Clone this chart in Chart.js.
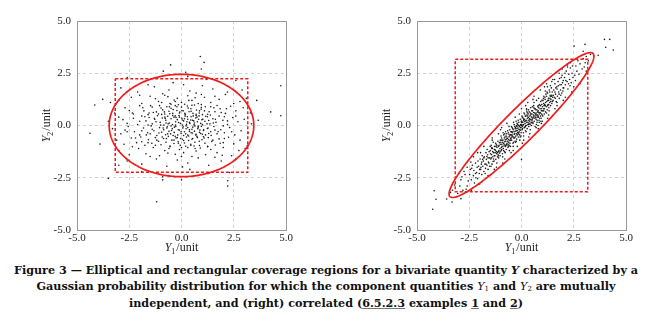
<!DOCTYPE html>
<html>
<head>
<meta charset="utf-8">
<script src="https://cdn.jsdelivr.net/npm/chart.js@4/dist/chart.umd.min.js"></script>
<style>
body { margin: 0; width: 652px; height: 327px; background: #fff; position: relative; overflow: hidden; }
.box { position: absolute; top: 0; width: 300px; height: 255px; }
#leftBox { left: 0; }
#rightBox { left: 340px; }
#caption { position: absolute; left: 0; top: 262px; width: 652px; text-align: center;
  font: bold 11.2px "DejaVu Serif", serif; line-height: 16px; color: #111; }
#caption .m { font-weight: normal; font-style: italic; }
#caption sub { font-size: 7px; font-style: normal; vertical-align: -1px; line-height: 0; }
#caption u { text-decoration-color: #777; }
</style>
</head>
<body>
<div class="box" id="leftBox"><canvas id="leftChart" width="300" height="255"></canvas></div>
<div class="box" id="rightBox"><canvas id="rightChart" width="300" height="255"></canvas></div>
<div id="caption">Figure 3 — Elliptical and rectangular coverage regions for a bivariate quantity <i>Y</i> characterized by a<br>Gaussian probability distribution for which the component quantities <span class="m">Y<sub>1</sub></span> and <span class="m">Y<sub>2</sub></span> are mutually<br>independent, and (right) correlated (<u>6.5.2.3</u> examples <u>1</u> and <u>2</u>)</div>
<script>
// axes
const axisTicks = [-5.0, -2.5, 0.0, 2.5, 5.0];

// coverage rectangles (corners, closed)
const rectLeftX = [-3.17, 3.17, 3.17, -3.17, -3.17];
const rectLeftY = [2.24, 2.24, -2.24, -2.24, 2.24];
const rectRightX = [-3.17, 3.17, 3.17, -3.17, -3.17];
const rectRightY = [3.17, 3.17, -3.17, -3.17, 3.17];

// coverage ellipses: centre, semi-axes, angle (deg)
const ellipseLeft = [0, 0, 3.46, 2.45, 0];
const ellipseRight = [0, 0.02, 4.84, 0.77, 45];

// independent case (Y1, Y2)
const leftPoints = [
  [-1.8,2.1],[0.3,2.35],[1.2,2.2],[-0.4,2.05],[2.6,2.15],[-2.6,2.3],
  [0.9,3.3],[1.08,3.02],[-0.52,2.9],[-0.87,2.6],[0.95,2.7],[0.2,2.55],
  [-2.1,1.6],[-1.3,1.85],[-0.6,1.7],[0.1,1.95],[0.7,1.55],[1.5,1.75],[2.2,1.6],[-2.9,1.8],[0.4,1.65],[-0.9,1.52],[1.0,1.9],[2.9,1.7],[-1.6,1.95],
  [-3.0,1.2],[-2.4,1.35],[-1.9,1.05],[-1.5,1.4],[-1.1,1.15],[-0.8,1.45],[-0.5,1.02],[-0.2,1.3],[0.0,1.1],[0.3,1.42],[0.5,1.2],[0.8,1.05],[1.1,1.35],[1.4,1.1],
  [1.8,1.25],[2.1,1.48],[2.5,1.05],[3.1,1.3],[-0.35,1.22],[0.65,1.33],[-1.25,1.28],[1.6,1.4],[-2.0,1.45],[0.15,1.02],[-0.65,1.38],[0.95,1.48],[2.8,1.15],[-3.4,1.1],
  [-3.77,1.25],[-4.15,0.98],[3.6,1.2],[4.75,1.9],
  [-3.2,0.6],[-2.7,0.85],[-2.3,0.55],[-2.0,0.95],[-1.8,0.7],[-1.6,0.52],[-1.4,0.88],[-1.2,0.65],[-1.05,0.95],[-0.9,0.75],[-0.8,0.55],[-0.7,0.9],[-0.6,0.68],
  [-0.5,0.82],[-0.42,0.58],[-0.3,0.95],[-0.22,0.72],[-0.1,0.6],[0.0,0.88],[0.08,0.7],[0.18,0.52],[0.28,0.93],[0.36,0.66],[0.45,0.8],[0.55,0.58],[0.62,0.98],
  [0.72,0.74],[0.85,0.6],[0.95,0.86],[1.1,0.7],[1.25,0.54],[1.4,0.9],[1.6,0.66],[1.85,0.8],[2.1,0.58],[2.35,0.92],[2.6,0.7],[2.95,0.85],[3.3,0.6],[-2.5,0.72],
  [-0.95,0.53],[0.5,0.97],[1.0,0.52],[-0.15,0.99],[1.7,0.96],[4.27,0.65],[4.75,0.47],
  [-3.5,0.2],[-3.0,0.4],[-2.6,0.1],[-2.3,0.35],[-2.1,0.05],[-1.9,0.45],[-1.7,0.22],[-1.55,0.38],[-1.4,0.08],[-1.28,0.3],[-1.15,0.47],[-1.02,0.15],[-0.92,0.36],
  [-0.84,0.02],[-0.75,0.25],[-0.66,0.44],[-0.58,0.12],[-0.5,0.32],[-0.43,0.05],[-0.36,0.4],[-0.28,0.18],[-0.2,0.28],[-0.12,0.48],[-0.05,0.1],[0.02,0.35],
  [0.1,0.22],[0.17,0.45],[0.24,0.06],[0.3,0.3],[0.38,0.15],[0.46,0.42],[0.53,0.25],[0.6,0.04],[0.68,0.36],[0.76,0.18],[0.84,0.46],[0.92,0.1],[1.02,0.3],
  [1.12,0.2],[1.24,0.42],[1.36,0.08],[1.5,0.32],[1.65,0.15],[1.8,0.45],[1.98,0.25],[2.2,0.05],[2.45,0.38],[2.7,0.18],[3.0,0.3],[3.35,0.08],[-0.8,0.41],
  [0.05,0.02],[0.7,0.48],[-1.6,0.02],[1.3,0.24],[-2.8,0.28],[2.05,0.42],[-0.3,0.46],[3.67,0.25],
  [-3.3,-0.15],[-2.9,-0.4],[-2.55,-0.05],[-2.25,-0.3],[-2.0,-0.45],[-1.82,-0.12],[-1.62,-0.35],[-1.45,-0.02],[-1.32,-0.25],[-1.18,-0.48],[-1.05,-0.1],
  [-0.95,-0.32],[-0.85,-0.2],[-0.76,-0.44],[-0.68,-0.06],[-0.6,-0.28],[-0.52,-0.4],[-0.44,-0.15],[-0.35,-0.33],[-0.27,-0.05],[-0.18,-0.45],[-0.1,-0.22],
  [-0.02,-0.38],[0.06,-0.12],[0.14,-0.3],[0.22,-0.02],[0.3,-0.46],[0.38,-0.2],[0.46,-0.35],[0.54,-0.08],[0.62,-0.27],[0.7,-0.42],[0.78,-0.15],[0.86,-0.33],
  [0.95,-0.04],[1.05,-0.24],[1.15,-0.45],[1.27,-0.12],[1.4,-0.3],[1.55,-0.05],[1.7,-0.4],[1.88,-0.2],[2.05,-0.35],[2.3,-0.1],[2.55,-0.45],[2.85,-0.25],
  [3.2,-0.35],[-0.4,-0.48],[0.1,-0.48],[0.5,-0.18],[1.0,-0.42],[-1.5,-0.4],[-0.7,-0.12],[0.3,-0.1],[1.6,-0.22],[-2.7,-0.22],[2.0,-0.02],[0.8,-0.04],[-4.38,-0.37],
  [-3.1,-0.7],[-2.75,-0.9],[-2.4,-0.6],[-2.15,-0.82],[-1.95,-0.55],[-1.75,-0.95],[-1.58,-0.68],[-1.42,-0.85],[-1.25,-0.58],[-1.1,-0.75],[-0.98,-0.92],
  [-0.86,-0.62],[-0.74,-0.8],[-0.63,-0.52],[-0.55,-0.98],[-0.46,-0.7],[-0.36,-0.86],[-0.26,-0.6],[-0.16,-0.78],[-0.06,-0.95],[0.04,-0.66],[0.14,-0.84],
  [0.24,-0.55],[0.34,-0.72],[0.44,-0.9],[0.54,-0.62],[0.64,-0.8],[0.74,-0.52],[0.86,-0.96],[0.98,-0.68],[1.12,-0.85],[1.28,-0.58],[1.45,-0.76],[1.62,-0.93],
  [1.8,-0.64],[2.0,-0.82],[2.25,-0.56],[2.5,-0.88],[2.8,-0.7],[3.15,-0.95],[-0.3,-0.52],[0.6,-0.98],[1.05,-0.54],[-1.9,-0.78],[0.2,-0.99],[-3.9,-0.89],
  [-3.0,-1.2],[-2.5,-1.4],[-2.05,-1.1],[-1.7,-1.35],[-1.35,-1.05],[-1.05,-1.45],[-0.8,-1.2],[-0.55,-1.02],[-0.3,-1.38],[-0.1,-1.15],[0.1,-1.3],[0.3,-1.05],
  [0.5,-1.48],[0.7,-1.22],[0.9,-1.08],[1.15,-1.4],[1.4,-1.15],[1.7,-1.3],[2.0,-1.05],[2.4,-1.45],[2.75,-1.2],[3.05,-1.1],[-1.5,-1.48],[0.0,-1.48],[-0.65,-1.32],
  [1.95,-1.42],[-2.35,-1.02],[1.25,-1.02],
  [-2.6,-1.7],[-1.9,-1.85],[-1.2,-1.6],[-0.7,-1.95],[-0.2,-1.65],[0.3,-1.8],[0.8,-1.55],[1.3,-1.9],[1.9,-1.7],[2.6,-1.6],[-3.0,-1.9],[0.05,-1.98],[1.6,-1.52],
  [-1.9,-2.2],[-0.6,-2.4],[0.4,-2.1],[1.3,-2.3],[2.3,-2.25],[-0.9,-2.45],
  [-3.5,-2.53],[-1.19,-3.65],[2.21,-2.64],[2.21,-2.9],[0.0,-2.6],[-0.9,-2.6],
  [-1.35,0.62],[-1.22,0.18],[-1.08,-0.36],[-0.98,0.84],[-0.88,-0.12],[-0.78,0.34],[-0.72,-0.62],[-0.64,0.08],[-0.56,0.56],[-0.48,-0.24],[-0.4,0.76],
  [-0.34,-0.08],[-0.26,0.38],[-0.2,-0.58],[-0.14,0.14],[-0.08,0.64],[-0.02,-0.3],[0.04,0.26],[0.1,-0.72],[0.16,0.58],[0.22,-0.16],[0.28,0.42],[0.34,-0.5],
  [0.4,0.1],[0.46,0.68],[0.52,-0.36],[0.58,0.22],[0.64,-0.02],[0.7,0.54],[0.76,-0.58],[0.82,0.3],[0.88,-0.22],[0.94,0.78],[1.0,0.04],[1.08,-0.6],[1.16,0.44],
  [1.24,-0.14],[1.32,0.66],[1.42,-0.48],[1.52,0.12],
  [-1.9,-0.25],[-1.75,0.42],[-1.6,-0.82],[-1.48,0.95],[-1.4,-0.18],[-1.3,0.35],[-1.18,-0.7],[-1.1,0.55],[-1.0,0.02],[-0.92,-0.55],[-0.82,0.65],[-0.74,0.12],
  [-0.66,-0.4],[-0.58,0.9],[-0.5,-0.02],[-0.42,0.48],[-0.36,-0.7],[-0.28,0.02],[-0.22,0.9],[-0.16,-0.2],[-0.1,0.4],[-0.04,-0.62],[0.02,0.72],[0.08,-0.06],
  [0.14,0.32],[0.2,-0.4],[0.26,0.18],[0.32,0.84],[0.38,-0.28],[0.44,0.26],[0.5,-0.66],[0.56,0.46],[0.62,0.12],[0.68,-0.46],[0.74,0.4],[0.8,-0.08],[0.86,0.7],
  [0.92,-0.38],[0.98,0.28],[1.06,-0.2],[1.14,0.9],[1.22,0.08],[1.3,-0.38],[1.38,0.5],[1.5,-0.7],[1.62,0.3],[1.75,-0.3],[1.9,0.62],[2.05,-0.62],[2.2,0.22],
  [-2.35,0.6],[-2.2,-0.6],[-2.0,0.2],[-1.85,0.85],[-1.68,-0.45],[-1.55,0.6],[-1.25,-0.95],[-0.95,1.1],[-0.6,-1.1],[-0.3,1.15],[0.0,-1.05],[0.35,1.2],
  [0.65,-1.1],[0.95,1.0],[1.25,-1.0],[1.55,0.85],[1.85,-0.85],[2.15,0.8],[2.4,-0.3],[2.6,0.45],[-2.6,-0.3],[-0.15,-0.85],[0.45,-0.95],[-0.55,1.05],[0.85,-0.75]
];

// correlated case (Y1, Y2)
const rightPoints = [
  [-3.3,-3.1],[-3.1,-3.4],[-3.2,-2.85],[-3.05,-3.25],[-3.4,-3.2],
  [-2.9,-2.6],[-2.8,-3.1],[-2.7,-2.35],[-2.6,-2.9],[-2.95,-2.9],[-2.55,-2.65],[-2.75,-2.2],[-2.65,-3.05],[-2.85,-2.45],
  [-2.45,-2.1],[-2.4,-2.6],[-2.35,-1.9],[-2.3,-2.4],[-2.25,-2.75],[-2.2,-1.8],[-2.15,-2.25],[-2.1,-2.55],[-2.05,-1.95],[-2.48,-2.35],[-2.38,-2.05],
  [-2.28,-2.15],[-2.18,-2.5],[-2.08,-1.7],[-2.02,-2.3],[-2.42,-1.75],[-2.12,-2.0],
  [-1.98,-1.6],[-1.95,-2.1],[-1.92,-1.85],[-1.9,-2.35],[-1.88,-1.45],[-1.85,-1.95],[-1.82,-1.7],[-1.8,-2.2],[-1.78,-1.5],[-1.75,-1.85],[-1.72,-2.05],
  [-1.7,-1.3],[-1.68,-1.62],[-1.65,-1.9],[-1.62,-1.4],[-1.6,-2.1],[-1.58,-1.75],[-1.55,-1.25],[-1.53,-1.55],[-1.52,-1.95],[-1.96,-1.3],[-1.86,-1.62],
  [-1.74,-2.3],[-1.64,-1.15],[-1.56,-1.8],[-1.94,-2.0],[-1.66,-1.48],
  [-1.49,-1.2],[-1.47,-1.6],[-1.45,-0.95],[-1.43,-1.4],[-1.41,-1.85],[-1.39,-1.1],[-1.37,-1.5],[-1.35,-0.8],[-1.33,-1.3],[-1.31,-1.7],[-1.29,-1.0],
  [-1.27,-1.45],[-1.25,-1.18],[-1.23,-1.62],[-1.21,-0.9],[-1.19,-1.35],[-1.17,-1.05],[-1.15,-1.5],[-1.13,-0.75],[-1.11,-1.25],[-1.09,-1.55],[-1.07,-0.95],
  [-1.05,-1.32],[-1.03,-1.1],[-1.01,-0.7],[-1.48,-1.35],[-1.42,-1.05],[-1.36,-1.72],[-1.3,-1.15],[-1.24,-0.85],[-1.18,-1.8],[-1.12,-1.4],[-1.06,-0.82],
  [-1.02,-1.45],[-1.4,-0.7],[-1.2,-1.25],[-1.1,-1.0],[-1.46,-1.95],
  [-0.99,-0.8],[-0.97,-1.2],[-0.95,-0.6],[-0.93,-1.0],[-0.91,-1.35],[-0.89,-0.7],[-0.87,-1.1],[-0.85,-0.45],[-0.83,-0.9],[-0.81,-1.25],[-0.79,-0.55],
  [-0.77,-1.0],[-0.75,-0.75],[-0.73,-1.15],[-0.71,-0.4],[-0.69,-0.85],[-0.67,-0.62],[-0.65,-1.05],[-0.63,-0.35],[-0.61,-0.8],[-0.59,-0.95],[-0.57,-0.5],
  [-0.55,-0.72],[-0.53,-1.0],[-0.51,-0.3],[-0.98,-0.5],[-0.94,-0.9],[-0.9,-1.5],[-0.86,-0.85],[-0.82,-0.6],[-0.78,-1.3],[-0.74,-0.5],[-0.7,-0.95],
  [-0.66,-0.25],[-0.62,-0.68],[-0.58,-1.2],[-0.54,-0.45],[-0.96,-1.05],[-0.88,-0.35],[-0.8,-0.78],[-0.72,-0.65],[-0.64,-0.9],[-0.56,-0.2],[-0.52,-0.62],
  [-0.76,-0.3],[-0.6,-0.55],
  [-0.49,-0.3],[-0.47,-0.7],[-0.45,-0.1],[-0.43,-0.5],[-0.41,-0.85],[-0.39,-0.2],[-0.37,-0.6],[-0.35,0.05],[-0.33,-0.4],[-0.31,-0.75],[-0.29,-0.1],
  [-0.27,-0.5],[-0.25,-0.25],[-0.23,-0.65],[-0.21,0.1],[-0.19,-0.35],[-0.17,-0.12],[-0.15,-0.55],[-0.13,0.15],[-0.11,-0.3],[-0.09,-0.45],[-0.07,0.0],
  [-0.05,-0.22],[-0.03,-0.5],[-0.01,0.2],[-0.48,-0.05],[-0.44,-0.35],[-0.4,-1.0],[-0.36,-0.3],[-0.32,-0.05],[-0.28,-0.8],[-0.24,0.0],[-0.2,-0.45],
  [-0.16,0.25],[-0.12,-0.18],[-0.08,-0.7],[-0.04,0.05],[-0.46,-0.55],[-0.38,0.15],[-0.3,-0.28],[-0.22,-0.15],[-0.14,-0.4],[-0.06,0.3],[-0.02,-0.1],
  [-0.26,0.2],[-0.1,-0.05],[-0.42,-0.15],[-0.34,-0.6],[-0.18,0.05],[-0.5,-0.45],[-0.02,-0.35],[0.0,-1.62],
  [0.01,0.2],[0.03,-0.2],[0.05,0.4],[0.07,0.0],[0.09,-0.35],[0.11,0.3],[0.13,-0.1],[0.15,0.55],[0.17,0.1],[0.19,-0.25],[0.21,0.45],[0.23,0.0],[0.25,0.25],
  [0.27,-0.15],[0.29,0.6],[0.31,0.15],[0.33,0.38],[0.35,-0.05],[0.37,0.65],[0.39,0.2],[0.41,0.05],[0.43,0.5],[0.45,0.28],[0.47,0.0],[0.49,0.7],[0.02,0.45],
  [0.06,0.15],[0.1,-0.5],[0.14,0.2],[0.18,0.45],[0.22,-0.3],[0.26,0.5],[0.3,0.05],[0.34,0.75],[0.38,0.32],[0.42,-0.2],[0.46,0.55],[0.04,-0.05],[0.12,0.6],
  [0.2,0.22],[0.28,0.35],[0.36,0.1],[0.44,0.85],[0.48,0.4],[0.24,0.8],[0.4,0.45],[0.08,0.35],[0.16,-0.1],[0.32,0.55],[0.0,0.0],[0.48,0.15],
  [0.51,0.3],[0.53,0.7],[0.55,0.1],[0.57,0.5],[0.59,0.85],[0.61,0.2],[0.63,0.6],[0.65,-0.05],[0.67,0.4],[0.69,0.75],[0.71,0.05],[0.73,0.5],[0.75,0.25],
  [0.77,0.65],[0.79,0.0],[0.81,0.45],[0.83,0.62],[0.85,0.15],[0.87,0.35],[0.89,0.8],[0.91,0.45],[0.93,0.2],[0.95,0.7],[0.97,1.0],[0.99,0.5],[0.52,0.9],
  [0.56,0.4],[0.6,1.1],[0.64,0.35],[0.68,0.55],[0.72,1.2],[0.76,0.5],[0.8,0.95],[0.84,0.25],[0.88,0.62],[0.92,1.15],[0.96,0.55],[0.54,0.15],[0.62,0.8],
  [0.7,0.3],[0.78,0.9],[0.86,1.0],[0.94,0.35],[0.74,0.75],[0.58,0.62],[0.82,1.3],
  [1.01,0.7],[1.03,1.2],[1.05,0.8],[1.07,1.4],[1.09,0.55],[1.11,1.0],[1.13,1.25],[1.15,0.65],[1.17,1.5],[1.19,0.9],[1.21,1.15],[1.23,0.75],[1.25,1.55],
  [1.27,1.0],[1.29,1.3],[1.31,0.85],[1.33,1.7],[1.35,1.1],[1.37,1.45],[1.39,0.95],[1.41,1.25],[1.43,1.8],[1.45,1.05],[1.47,1.6],[1.49,1.35],[1.02,0.45],
  [1.08,0.95],[1.14,1.65],[1.2,0.6],[1.26,1.2],[1.32,0.7],[1.38,1.9],[1.44,1.4],[1.48,1.15],[1.12,1.35],[1.24,1.85],[1.36,1.3],[1.06,1.05],
  [1.51,1.2],[1.54,1.7],[1.57,1.35],[1.6,2.0],[1.63,1.5],[1.66,1.15],[1.69,1.85],[1.72,1.4],[1.75,2.1],[1.78,1.6],[1.81,1.3],[1.84,1.95],[1.87,1.7],
  [1.9,2.3],[1.93,1.55],[1.96,2.05],[1.99,1.8],[1.52,1.45],[1.58,2.2],[1.64,1.8],[1.7,1.1],[1.76,1.9],[1.82,2.25],[1.88,1.45],[1.94,2.4],[1.98,1.65],[1.62,1.3],
  [2.02,1.8],[2.06,2.3],[2.1,1.95],[2.14,2.6],[2.18,2.1],[2.22,1.75],[2.26,2.45],[2.3,2.2],[2.34,2.75],[2.38,2.05],[2.42,2.5],[2.46,2.3],[2.08,2.5],
  [2.2,2.8],[2.32,1.9],[2.44,2.85],[2.12,2.15],
  [2.55,2.4],[2.6,2.85],[2.65,2.6],[2.7,3.1],[2.75,2.45],[2.8,2.95],[2.9,2.7],[2.95,3.2],[2.58,2.15],
  [3.05,3.0],[3.1,3.3],[3.2,3.1],[3.3,3.4],[3.0,2.8],
  [3.97,4.12],[4.22,4.12],[4.03,3.74],[4.39,3.61],[3.04,3.88],[2.52,3.8],[3.67,3.36],
  [-4.18,-3.12],[-4.09,-3.53],[-4.25,-4.01],[-3.58,-3.52],[-3.32,-3.66],
  [-1.45,-1.55],[-1.38,-1.25],[-1.3,-1.45],[-1.22,-1.0],[-1.15,-1.3],[-1.08,-1.2],[-1.0,-0.9],[-0.95,-1.15],[-0.9,-0.8],[-0.84,-0.98],[-0.78,-0.68],
  [-0.72,-0.9],[-0.66,-0.75],[-0.6,-0.42],[-0.55,-0.85],[-0.5,-0.6],[-0.45,-0.3],[-0.4,-0.55],[-0.35,-0.42],[-0.3,-0.15],[-0.25,-0.4],[-0.2,-0.25],
  [-0.15,0.0],[-0.1,-0.2],[-0.05,-0.1],[0.0,0.15],[0.05,-0.15],[0.1,0.05],[0.15,0.3],[0.2,0.0],[0.25,0.15],[0.3,0.45],[0.35,0.25],[0.4,0.3],[0.45,0.12],
  [0.5,0.55],[0.55,0.35],[0.6,0.45],[0.65,0.8],[0.7,0.6],[0.75,0.4],[0.8,0.7],[0.85,0.55],[0.9,0.95],[0.95,0.8],[1.0,0.9],[1.05,1.3],[1.1,0.8],[1.15,1.1],
  [1.2,1.4],[1.25,0.95],[1.3,1.2],[1.35,1.6],[1.4,1.15],[1.45,1.45],
  [-1.42,-1.1],[-1.34,-1.6],[-1.26,-1.3],[-1.18,-0.95],[-1.1,-1.45],[-1.02,-1.25],[-0.94,-0.7],[-0.86,-1.2],[-0.78,-0.95],[-0.7,-0.55],[-0.62,-1.0],
  [-0.54,-0.7],[-0.46,-0.45],[-0.38,-0.8],[-0.3,-0.55],[-0.22,-0.05],[-0.14,-0.35],[-0.06,-0.55],[0.02,0.05],[0.1,0.25],[0.18,-0.05],[0.26,0.65],
  [0.34,0.05],[0.42,0.6],[0.5,0.25],[0.58,0.95],[0.66,0.5],[0.74,0.15],[0.82,0.85],[0.9,0.6],[0.98,1.2],[1.06,0.7],[1.14,0.95],[1.22,1.6],[1.3,1.0],[1.38,1.4],
  [-1.7,-1.85],[-1.8,-1.55],[-1.9,-1.75],[-2.0,-2.1],[-1.6,-1.55],[1.6,1.6],[1.7,1.75],[1.8,1.5],[1.9,1.95],[2.0,2.15],[-2.2,-2.3],[2.25,2.0],
  [-0.25,-0.75],[0.25,0.75],[-0.8,-0.4],[0.8,0.4],
  [-2.3,-1.5],[-2.0,-2.8],[-1.8,-1.0],[-1.6,-2.4],[-1.4,-0.6],[-1.2,-2.0],[-1.0,-0.2],[-0.9,-1.8],[-0.7,0.1],[-0.5,-1.3],[-0.3,0.4],[-0.2,-1.0],
  [0.0,0.8],[0.1,-0.7],[0.3,1.1],[0.4,-0.4],[0.6,1.4],[0.7,-0.1],[0.9,1.7],[1.0,0.2],[1.2,2.0],[1.3,0.5],[1.5,2.2],[1.6,0.8],[1.8,2.5],[2.0,1.2],
  [2.2,2.9],[2.4,1.6],[2.6,3.2],[2.8,2.0],
  [-2.6,-2.0],[-2.4,-3.1],[-2.1,-1.3],[-1.9,-2.7],[-1.5,-1.0],[-1.3,-2.1],[-1.1,-0.4],[-0.8,-1.6],[-0.6,-0.05],[-0.4,-1.2],[-0.1,0.55],[0.05,-0.85],
  [0.2,0.95],[0.35,-0.55],[0.55,1.25],[0.8,-0.15],[1.1,1.85],[1.25,0.35],[1.45,2.1],[1.7,0.95],[1.95,2.7],[2.1,1.35],[2.35,3.0],[2.5,1.85],
  [-3.0,-2.3],[-2.9,-3.5],[3.1,2.6],[2.95,3.55],[-0.95,-0.1],[0.95,0.1]
];

const RED = '#ee1c1c';
const SERIF = '"Liberation Serif", serif';

// solid grey box round the plot area
const framePlugin = {
  id: 'frame',
  beforeDatasetsDraw(chart) {
    const a = chart.chartArea, ctx = chart.ctx;
    ctx.save();
    ctx.strokeStyle = '#9a9a9a';
    ctx.lineWidth = 1;
    ctx.strokeRect(Math.round(a.left) + 0.5, Math.round(a.top) + 0.5, Math.round(a.right - a.left), Math.round(a.bottom - a.top));
    ctx.restore();
  }
};

// ellipse through the scales
const ellipsePlugin = {
  id: 'ellipse',
  afterDatasetsDraw(chart, args, opts) {
    const e = opts.params;
    if (!e) return;
    const xs = chart.scales.x, ys = chart.scales.y, ctx = chart.ctx;
    const th = e[4] * Math.PI / 180;
    ctx.save();
    ctx.strokeStyle = RED;
    ctx.lineWidth = 1.7;
    ctx.beginPath();
    for (let i = 0; i <= 240; i++) {
      const t = i / 240 * 2 * Math.PI;
      const u = e[2] * Math.cos(t), v = e[3] * Math.sin(t);
      const px = xs.getPixelForValue(e[0] + u * Math.cos(th) - v * Math.sin(th));
      const py = ys.getPixelForValue(e[1] + u * Math.sin(th) + v * Math.cos(th));
      if (i === 0) ctx.moveTo(px, py); else ctx.lineTo(px, py);
    }
    ctx.closePath();
    ctx.stroke();
    ctx.restore();
  }
};

// axis titles "Y1 /unit" with italic Y and subscript
function drawTitle(ctx, x, y, sub) {
  ctx.font = 'italic 12px ' + SERIF;
  const w1 = ctx.measureText('Y').width;
  ctx.font = '8px ' + SERIF;
  const w2 = ctx.measureText(sub).width;
  ctx.font = '12px ' + SERIF;
  const w3 = ctx.measureText('/unit').width;
  let cx = x - (w1 + w2 + 1 + w3) / 2;
  ctx.textBaseline = 'alphabetic';
  ctx.textAlign = 'left';
  ctx.font = 'italic 12px ' + SERIF;
  ctx.fillText('Y', cx, y);
  cx += w1;
  ctx.font = '8px ' + SERIF;
  ctx.fillText(sub, cx, y + 3);
  cx += w2 + 1;
  ctx.font = '12px ' + SERIF;
  ctx.fillText('/unit', cx, y);
}

const titlePlugin = {
  id: 'axisTitles',
  afterDraw(chart) {
    const a = chart.chartArea, ctx = chart.ctx;
    ctx.save();
    ctx.fillStyle = '#222';
    drawTitle(ctx, (a.left + a.right) / 2, a.bottom + 21, '1');
    ctx.translate(a.left - 27, (a.top + a.bottom) / 2);
    ctx.rotate(-Math.PI / 2);
    drawTitle(ctx, 0, 0, '2');
    ctx.restore();
  }
};

function axis(pos) {
  return {
    type: 'linear',
    position: pos,
    min: axisTicks[0],
    max: axisTicks[axisTicks.length - 1],
    afterBuildTicks: s => { s.ticks = axisTicks.map(v => ({ value: v })); },
    afterFit: s => { if (pos === 'left') s.width = 77; else s.height = 25; },
    ticks: {
      callback: v => v.toFixed(1),
      color: '#222',
      font: { family: SERIF, size: 11 },
      padding: pos === 'left' ? 6 : 2,
      maxRotation: 0
    },
    grid: {
      drawTicks: false,
      color: c => (c.tick && Math.abs(c.tick.value) === 5) ? 'rgba(0,0,0,0)' : '#d2d2d2',
      lineWidth: 1
    },
    border: { display: false, dash: [3, 3] }
  };
}

function makeChart(id, points, rx, ry, ell) {
  new Chart(document.getElementById(id), {
    type: 'scatter',
    data: {
      datasets: [
        {
          type: 'line',
          data: rx.map((x, i) => ({ x: x, y: ry[i] })),
          borderColor: RED,
          borderWidth: 1.5,
          borderDash: [3, 2],
          pointRadius: 0,
          fill: false,
          tension: 0
        },
        {
          data: points.map(p => ({ x: p[0], y: p[1] })),
          pointRadius: 0.8,
          pointBackgroundColor: '#1a1a1a',
          pointBorderWidth: 0,
          pointHoverRadius: 0
        }
      ]
    },
    options: {
      responsive: false,
      animation: false,
      events: [],
      layout: { padding: { top: 21, right: 14, left: 0, bottom: 0 } },
      plugins: {
        legend: { display: false },
        tooltip: { enabled: false },
        ellipse: { params: ell }
      },
      scales: { x: axis('bottom'), y: axis('left') }
    },
    plugins: [framePlugin, ellipsePlugin, titlePlugin]
  });
}

makeChart('leftChart', leftPoints, rectLeftX, rectLeftY, ellipseLeft);
makeChart('rightChart', rightPoints, rectRightX, rectRightY, ellipseRight);
</script>
</body>
</html>
